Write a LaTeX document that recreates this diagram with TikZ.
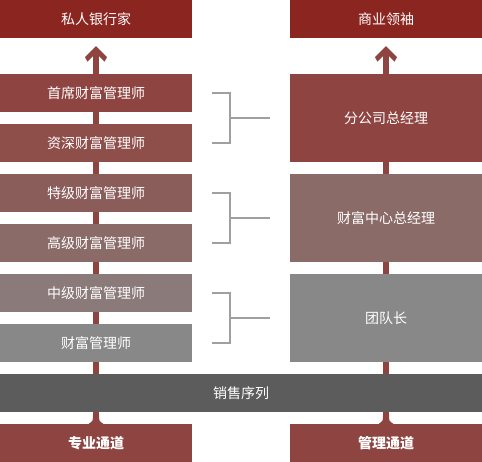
\documentclass[tikz,border=0pt]{standalone}
\usepackage{fontspec}
\setmainfont{Noto Sans CJK SC}
\usetikzlibrary{calc,backgrounds}
\definecolor{topred}{HTML}{8B2520}
\definecolor{rungA}{HTML}{8E4440}
\definecolor{rungB}{HTML}{8E4E4A}
\definecolor{rungC}{HTML}{8B5D5A}
\definecolor{rungD}{HTML}{8B6B68}
\definecolor{rungE}{HTML}{8A7A79}
\definecolor{rungF}{HTML}{888888}
\definecolor{barcol}{HTML}{5C5C5C}
\definecolor{bracketcol}{HTML}{A0A0A0}
\begin{document}
\begin{tikzpicture}[x=1pt, y=-1pt,
    every node/.style={font=\fontsize{14}{16}\selectfont, text=white, inner sep=0pt},
    rung/.style={rectangle, minimum width=192pt, minimum height=37.7pt},
    tallrung/.style={rung, minimum height=87.7pt},
    shaft/.style={fill=rungA},
    bracket/.style={draw=bracketcol, line width=2pt}]
    \useasboundingbox (0,0) rectangle (482,462);

    % Cabeceras y pies de las dos vías.
    \node[rung, fill=topred] (sirenyh) at (96,18.85) {私人银行家};
    \node[rung, fill=topred] (shangye) at (386,18.85) {商业领袖};
    \node[rung, fill=rungA, font=\fontsize{14}{16}\selectfont\bfseries] (zhuanye) at (96,443) {专业通道};
    \node[rung, fill=rungA, font=\fontsize{14}{16}\selectfont\bfseries] (guanli) at (386,443) {管理通道};

    % Escalones de la vía profesional.
    \foreach \name/\col/\txt [count=\i from 0] in {shouxi/rungA/首席财富管理师, zishen/rungB/资深财富管理师,
        teji/rungC/特级财富管理师, gaoji/rungD/高级财富管理师, zhongji/rungE/中级财富管理师, caifu/rungF/财富管理师} {
        \node[rung, fill=\col] (\name) at (96,{92.85+50*\i}) {\txt};
    }
    % Escalones de la vía de gestión.
    \node[tallrung, fill=rungA] (fengongsi) at (386,117.85) {分公司总经理};
    \node[tallrung, fill=rungD] (zhongxin) at (386,217.85) {财富中心总经理};
    \node[tallrung, fill=rungF] (tuandui) at (386,317.85) {团队长};

    % Franja común.
    \node[rung, fill=barcol, minimum width=482pt] (xiaoshou) at (241,392.85) {销售序列};

    % Corchetes entre las dos vías.
    \foreach \upper/\lower/\right in {shouxi/zishen/fengongsi, teji/gaoji/zhongxin, zhongji/caifu/tuandui} {
        \draw[bracket] ($(\upper.east)+(20,0)$) -| ($(\lower.east)+(37.5,0)$) -- ($(\lower.east)+(20,0)$);
        \draw[bracket] ($(\right.west)+(-20,0)$) -- ($(\right.west)+(-60.5,0)$);
    }

    % Flechas verticales detrás de las cajas.
    \begin{scope}[on background layer]
        \foreach \bottom/\top in {zhuanye/sirenyh, guanli/shangye} {
            \fill[shaft] ($(\bottom.north)+(-3,0)$) rectangle ($(\top.south)+(3,17)$);
            \fill[shaft] ($(\top.south)+(0,8.3)$) -- ++(11,11) -- ++(-2.5,4.5) -- ++(-5.5,-5.5)
                -- ++(-6,0) -- ++(-5.5,5.5) -- ++(-2.5,-4.5) -- cycle;
            \fill[shaft] ($(\bottom.north)+(-7.5,0)$) .. controls ($(\bottom.north)+(-3,-3)$) .. ($(\bottom.north)+(-3,-9)$)
                -- ($(\bottom.north)+(3,-9)$) .. controls ($(\bottom.north)+(3,-3)$) .. ($(\bottom.north)+(7.5,0)$) -- cycle;
        }
    \end{scope}
\end{tikzpicture}
\end{document}
